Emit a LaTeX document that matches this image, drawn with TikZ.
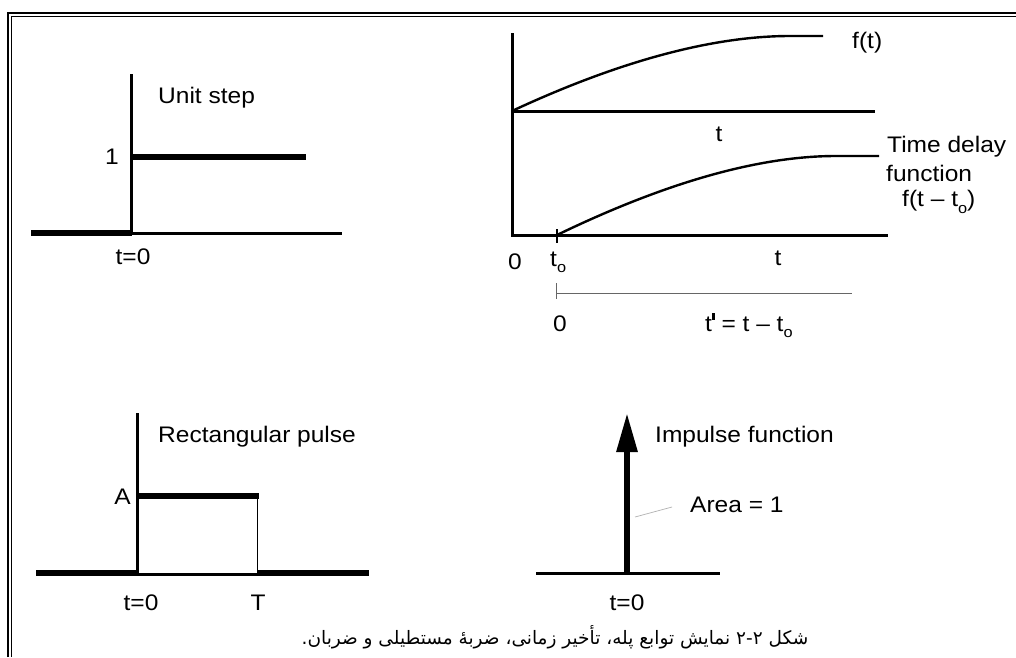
\documentclass[tikz,border=0pt]{standalone}
\usepackage{fontspec}
\usepackage{graphicx}
\usetikzlibrary{arrows.meta}
\newfontfamily\lab[FakeStretch=1.09]{Liberation Sans}
\newfontfamily\fa[Script=Arabic]{DejaVu Sans}
\TeXXeTstate=1
\newcommand{\sbo}{\raisebox{-0.28em}{\fontsize{15}{15}\selectfont o}}
\newcommand{\prm}{\raisebox{0.5em}{\rule{0.12em}{0.32em}}}
\tikzset{
  lbl/.style={inner sep=0pt, font=\lab\fontsize{22.5}{25}\selectfont},
  axis/.style={line width=3pt},
  heavy/.style={line width=5.5pt},
  thinl/.style={line width=1pt},
  frameo/.style={line width=2.3pt, line join=miter},
  framei/.style={line width=1.1pt, line join=miter},
  leader/.style={line width=0.7pt, gray!60},
  scaleline/.style={line width=1pt, gray!80!black}
}
\begin{document}
\begin{tikzpicture}[x=1pt,y=-1pt]
\useasboundingbox (0,0) rectangle (1016,657);
\fill[white] (0,0) rectangle (1016,657);
% frame
\draw[frameo] (8,657) -- (8,13.2) -- (1016,13.2);
\draw[framei] (11.7,657) -- (11.7,16.6) -- (1016,16.6);

% ---------- Unit step ----------
\coordinate (us-top) at (131.5,74);
\coordinate (us-o) at (131.5,233);
\coordinate (us-l) at (31,233);
\coordinate (us-r) at (342,233);
\coordinate (us-s) at (131.5,157);
\coordinate (us-e) at (306,157);
\draw[axis] (us-top) -- (us-o);
\draw[axis] (us-o) -- (us-r);
\draw[line width=6pt] (us-l) -- (us-o);
\draw[heavy] (us-s) -- (us-e);
\node[lbl, anchor=west] (us-t) at (158,98) {Unit step};
\node[lbl, anchor=east] (us-1) at (119,157) {1};
\node[lbl] (us-0) at (133,257) {t=0};

% ---------- Time delay ----------
\coordinate (td-top) at (512,33);
\coordinate (td-o) at (512,235);
\coordinate (td-m) at (512,111);
\coordinate (td-mr) at (875,111);
\coordinate (td-r) at (888,235);
\coordinate (td-to) at (557,235);
\coordinate (td-f1) at (790,36);
\coordinate (td-f2) at (823,36);
\coordinate (td-g1) at (836,156);
\coordinate (td-g2) at (879,156);
\draw[axis] (td-top) -- (td-o) -- (td-r);
\draw[axis] (td-m) -- (td-mr);
\draw[line width=2.4pt] (td-m) .. controls (600,70) and (700,36) .. (td-f1) -- (td-f2);
\draw[line width=2.4pt] (td-to) .. controls (646,192) and (746,156) .. (td-g1) -- (td-g2);
\draw[line width=2pt] (557,229) -- (557,243);
\node[lbl, anchor=west] (td-ft) at (852,43) {f(t)};
\node[lbl] (td-t1) at (719,134) {t};
\node[lbl, anchor=west] (td-l1) at (887,147) {Time delay};
\node[lbl, anchor=west] (td-l2) at (886,173) {function};
\node[lbl, anchor=west] (td-l3) at (902,202) {f(t – t\sbo)};
\node[lbl] (td-0) at (515,262) {0};
\node[lbl, anchor=west] (td-t0) at (550,262) {t\sbo};
\node[lbl] (td-t2) at (778,258) {t};
\coordinate (sc-l) at (556,293);
\coordinate (sc-r) at (852,293);
\draw[scaleline] (sc-l) -- (sc-r);
\draw[scaleline] (556,283) -- (556,299);
\node[lbl] (sc-0) at (560,324) {0};
\node[lbl, anchor=west] (sc-t) at (705,325) {t\prm\ = t – t\sbo};

% ---------- Rectangular pulse ----------
\coordinate (rp-top) at (137,413);
\coordinate (rp-o) at (137,573);
\coordinate (rp-l) at (36,573);
\coordinate (rp-T) at (257,573);
\coordinate (rp-r) at (369,573);
\coordinate (rp-a) at (137,496);
\coordinate (rp-b) at (259,496);
\coordinate (rp-c) at (257,496);
\draw[axis] (rp-top) -- (rp-o);
\draw[line width=6pt] (rp-l) -- (rp-o);
\draw[line width=3pt] ([yshift=-1.5pt]rp-o) -- ([yshift=-1.5pt]rp-T);
\draw[line width=6pt] (rp-T) -- (rp-r);
\draw[line width=6pt] (rp-a) -- (rp-b);
\draw[thinl] (rp-c) -- (rp-T);
\node[lbl, anchor=west] (rp-t) at (158,437) {Rectangular pulse};
\node[lbl, anchor=east] (rp-A) at (131,497) {A};
\node[lbl] (rp-0) at (141,603) {t=0};
\node[lbl] (rp-TT) at (258,603) {T};

% ---------- Impulse ----------
\coordinate (im-l) at (536,573);
\coordinate (im-r) at (720,573);
\coordinate (im-o) at (627,573);
\coordinate (im-tip) at (627,413);
\draw[axis] (im-l) -- (im-r);
\draw[line width=6pt, -{Triangle[length=39pt,width=20pt]}] (im-o) -- (im-tip);
\node[lbl, anchor=west] (im-t) at (655,437) {Impulse function};
\node[lbl, anchor=west] (im-a) at (690,505) {Area = 1};
\coordinate (im-p) at (635,517);
\draw[leader] (im-p) -- (672,507);
\node[lbl] (im-0) at (627,603) {t=0};

% caption
\node[inner sep=0pt, font=\fa\fontsize{18.5}{22}\selectfont] (cap) at (555,637)
  {\beginR شکل ۲-۲ نمایش توابع پله، تأخیر زمانی، ضربهٔ مستطیلی و ضربان.\endR};
\end{tikzpicture}
\end{document}
